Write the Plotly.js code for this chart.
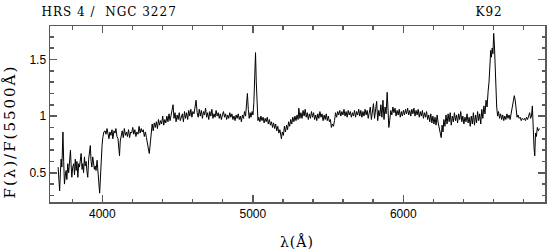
<!DOCTYPE html>
<html>
<head>
<meta charset="utf-8">
<script src="https://cdn.plot.ly/plotly-3.0.1.min.js"></script>
<style>
html,body{margin:0;padding:0;background:#fff;}
#chart{width:548px;height:251px;}
g.annotation[data-index="0"] text{letter-spacing:1px;}
g.annotation[data-index="1"] text{letter-spacing:1px;}
g.annotation[data-index="2"] text{letter-spacing:2px;}
g.annotation[data-index="3"] text{letter-spacing:1px;}
</style>
</head>
<body>
<div id="chart"></div>
<script>
const wavelength = [
3706,3712,3716,3721,3726,3731,3738,3743,3748,3754,3759,3764,3770,3776,3781,3788,3792,3797,3803,3810,
3815,3820,3826,3831,3837,3843,3848,3853,3859,3865,3870,3875,3881,3886,3892,3897,3903,3909,3914,3920,
3925,3930,3936,3941,3947,3952,3958,3965,3970,3976,3982,3987,3993,3998,4003,4010,4018,4024,4031,4037,
4044,4050,4057,4064,4070,4077,4084,4090,4097,4104,4110,4114,4119,4125,4132,4139,4146,4153,4160,4167,
4174,4181,4188,4195,4202,4209,4216,4223,4230,4237,4244,4251,4258,4265,4272,4279,4286,4293,4300,4306,
4312,4318,4324,4331,4338,4345,4352,4359,4366,4373,4380,4387,4394,4401,4408,4415,4422,4429,4436,4443,
4450,4457,4464,4470,4476,4483,4490,4497,4504,4511,4518,4525,4532,4539,4546,4553,4560,4567,4574,4581,
4588,4595,4602,4609,4616,4623,4630,4637,4644,4651,4658,4665,4672,4679,4686,4693,4700,4707,4714,4721,
4728,4735,4742,4749,4756,4763,4770,4777,4784,4791,4798,4805,4812,4819,4826,4833,4840,4847,4854,4861,
4868,4875,4882,4889,4896,4903,4910,4917,4924,4931,4938,4945,4952,4958,4964,4970,4976,4982,4988,4995,
5001,5007,5013,5018,5023,5028,5034,5040,5047,5054,5061,5068,5075,5082,5089,5096,5103,5110,5117,5124,
5131,5138,5145,5152,5159,5166,5173,5180,5186,5190,5196,5203,5210,5217,5224,5231,5238,5245,5252,5259,
5266,5273,5280,5287,5294,5301,5306,5313,5320,5327,5334,5341,5348,5355,5362,5369,5376,5383,5390,5397,
5404,5411,5418,5425,5432,5439,5446,5453,5460,5467,5474,5481,5488,5495,5502,5509,5516,5522,5529,5536,
5543,5550,5557,5564,5571,5578,5585,5592,5599,5606,5613,5620,5627,5634,5641,5648,5655,5662,5669,5676,
5683,5690,5697,5704,5711,5718,5725,5732,5739,5746,5753,5760,5767,5774,5781,5788,5795,5802,5809,5816,
5823,5830,5837,5844,5851,5858,5865,5872,5879,5886,5893,5899,5904,5910,5917,5924,5931,5938,5945,5952,
5959,5966,5973,5980,5987,5994,6001,6008,6015,6022,6029,6036,6043,6050,6057,6064,6071,6078,6085,6092,
6099,6106,6113,6120,6127,6134,6141,6148,6155,6162,6169,6176,6183,6190,6197,6204,6211,6218,6225,6232,
6239,6246,6252,6258,6264,6270,6277,6284,6291,6298,6305,6312,6319,6326,6333,6340,6347,6354,6361,6368,
6375,6382,6389,6396,6403,6410,6417,6424,6431,6438,6445,6452,6459,6466,6473,6480,6487,6494,6501,6508,
6515,6522,6529,6536,6543,6550,6557,6564,6570,6576,6581,6586,6591,6596,6601,6606,6611,6616,6621,6627,
6633,6640,6647,6654,6661,6668,6675,6682,6689,6696,6703,6710,6717,6724,6731,6738,6744,6750,6756,6763,
6770,6777,6784,6791,6798,6805,6812,6819,6826,6833,6840,6846,6852,6858,6863,6869,6874,6879,6885,6891,
6898,6905
];
const fluxRatio = [
0.55,0.45,0.34,0.50,0.62,0.55,0.86,0.60,0.40,0.48,0.52,0.44,0.58,0.50,0.64,0.70,0.58,0.46,0.55,0.58,
0.48,0.62,0.52,0.60,0.46,0.58,0.55,0.60,0.67,0.53,0.58,0.50,0.64,0.56,0.60,0.52,0.46,0.62,0.70,0.74,
0.60,0.55,0.64,0.59,0.53,0.56,0.52,0.61,0.55,0.42,0.32,0.48,0.64,0.74,0.81,0.86,0.87,0.84,0.89,0.85,
0.80,0.86,0.83,0.88,0.80,0.87,0.85,0.89,0.82,0.80,0.72,0.65,0.78,0.84,0.87,0.81,0.89,0.83,0.86,0.82,
0.88,0.81,0.86,0.85,0.90,0.84,0.88,0.82,0.86,0.84,0.91,0.85,0.89,0.86,0.88,0.82,0.86,0.81,0.77,0.71,
0.67,0.76,0.86,0.93,0.87,0.94,0.90,0.95,0.89,0.97,0.92,0.96,0.93,1.00,0.92,0.97,0.94,1.00,0.95,1.02,
0.96,1.01,1.05,1.10,0.98,1.03,0.95,1.01,0.97,1.03,0.96,1.00,1.02,0.95,1.04,0.98,1.03,0.97,1.05,1.00,
1.06,0.99,1.04,1.02,1.08,1.14,1.03,0.99,1.06,1.00,1.05,0.98,1.04,1.01,1.07,0.99,1.03,0.97,1.04,1.00,
1.06,0.98,1.02,0.99,1.05,1.00,1.03,0.98,1.02,0.97,1.01,1.04,0.99,1.02,0.97,1.01,0.98,1.03,0.99,1.02,
0.97,1.00,0.96,1.01,0.98,1.02,0.97,1.00,0.95,1.01,0.98,1.04,1.00,1.08,1.20,1.06,0.98,1.03,0.99,1.04,
1.01,1.12,1.40,1.56,1.30,1.05,0.96,0.99,0.95,1.00,0.96,0.99,0.94,0.98,0.95,0.99,0.93,0.97,0.92,0.95,
0.90,0.94,0.89,0.93,0.87,0.91,0.85,0.88,0.82,0.80,0.86,0.83,0.91,0.86,0.92,0.88,0.95,0.91,0.97,0.93,
0.99,0.95,1.00,0.96,1.01,0.97,1.07,0.98,1.03,0.98,1.05,1.00,1.06,0.99,1.03,0.97,1.02,0.98,1.04,0.99,
1.03,0.97,1.01,0.96,1.02,0.98,1.04,0.99,1.02,0.96,1.01,0.97,1.02,0.96,1.00,0.95,0.97,0.90,0.93,0.91,
0.96,1.03,0.99,1.04,1.01,1.05,1.00,1.04,1.01,1.06,1.00,1.04,0.99,1.05,1.01,1.04,0.99,1.03,1.00,1.05,
0.99,1.04,1.01,1.06,1.00,1.05,0.99,1.04,1.00,1.06,1.01,1.05,0.98,1.04,1.08,0.97,1.06,1.11,0.98,1.07,
1.13,0.96,1.05,1.00,1.10,0.99,1.14,0.97,1.08,1.02,1.21,1.05,0.90,0.96,1.05,1.01,1.08,1.03,1.07,1.00,
1.05,1.01,1.06,0.99,1.04,1.00,1.05,1.01,1.06,1.02,1.07,1.01,1.05,1.00,1.06,1.02,1.07,1.00,1.05,1.01,
1.06,0.99,1.04,1.00,1.05,0.98,1.03,0.99,1.04,0.97,1.01,0.95,1.02,0.94,1.00,0.93,0.99,0.92,1.01,0.94,
0.88,0.84,0.81,0.92,0.86,0.97,0.91,1.01,0.93,1.02,0.95,1.03,0.92,1.00,0.95,1.03,0.96,1.01,0.94,1.02,
0.97,1.04,0.95,1.00,0.93,0.99,0.95,1.02,0.94,0.99,0.91,1.00,0.93,1.03,0.92,1.01,0.94,1.04,0.96,1.02,
0.93,1.06,0.98,1.09,1.02,1.14,1.08,1.22,1.30,1.45,1.58,1.52,1.60,1.55,1.73,1.62,1.38,1.20,1.08,1.00,
1.04,0.98,1.02,0.97,1.01,0.96,1.00,0.97,1.02,0.98,1.01,0.97,1.02,1.05,1.12,1.18,1.14,1.05,0.99,1.01,
0.98,0.99,0.96,0.98,0.97,0.98,0.96,0.99,0.97,1.00,1.03,0.98,1.00,1.09,0.88,0.72,0.65,0.85,0.82,0.90,
0.87,0.89
];
const xTickVals = [4000, 5000, 6000];
const xTickText = ["4000", "5000", "6000"];
const yTickVals = [0.5, 1, 1.5];
const yTickText = ["0.5", "1", "1.5"];
const titleLeft = "HRS 4 /  NGC 3227";
const titleRight = "K92";
const xTitle = "λ(Å)";
const yTitle = "F(λ)/F(5500Å)";

const frame = '#5a5a5a';
const serif = 'DejaVu Serif, serif';

const trace = {
  x: wavelength, y: fluxRatio, type: 'scatter', mode: 'lines',
  line: {color: '#000', width: 1}, hoverinfo: 'skip'
};

const axisCommon = {
  showline: true, linecolor: frame, linewidth: 1.5, mirror: 'allticks',
  ticks: 'inside', tickcolor: frame, tickwidth: 1.5, ticklen: 7,
  showgrid: false, zeroline: false,
  tickfont: {family: 'Liberation Sans, Arial, sans-serif', size: 12, color: '#000'},
  tickmode: 'array'
};

const layout = {
  width: 548, height: 251,
  margin: {l: 50, r: 3, t: 26, b: 49, pad: 0},
  paper_bgcolor: '#fff', plot_bgcolor: '#fff',
  showlegend: false,
  xaxis: Object.assign({}, axisCommon, {
    range: [3652, 6942], tickvals: xTickVals, ticktext: xTickText,
    minor: {tickmode: 'linear', tick0: 3600, dtick: 200, ticks: 'inside', ticklen: 3.5, tickwidth: 1.5, tickcolor: frame, showgrid: false}
  }),
  yaxis: Object.assign({}, axisCommon, {
    range: [0.242, 1.795], tickvals: yTickVals, ticktext: yTickText,
    minor: {tickmode: 'linear', tick0: 0.2, dtick: 0.1, ticks: 'inside', ticklen: 3.5, tickwidth: 1.5, tickcolor: frame, showgrid: false}
  }),
  annotations: [
    {text: titleLeft, xref: 'paper', yref: 'paper', x: -0.004, y: 1.078, xanchor: 'left', yanchor: 'middle', showarrow: false,
     font: {family: serif, size: 12, color: '#000'}},
    {text: titleRight, xref: 'paper', yref: 'paper', x: 0.915, y: 1.078, xanchor: 'right', yanchor: 'middle', showarrow: false,
     font: {family: serif, size: 12, color: '#000'}},
    {text: yTitle, xref: 'paper', yref: 'paper', x: -0.081, y: 0.40, xanchor: 'center', yanchor: 'middle', textangle: -90, showarrow: false,
     font: {family: serif, size: 15, color: '#000'}},
    {text: xTitle, xref: 'paper', yref: 'paper', x: 0.499, y: -0.222, xanchor: 'center', yanchor: 'middle', showarrow: false,
     font: {family: serif, size: 14, color: '#000'}}
  ]
};

Plotly.newPlot('chart', [trace], layout, {staticPlot: true, displayModeBar: false});
</script>
</body>
</html>
